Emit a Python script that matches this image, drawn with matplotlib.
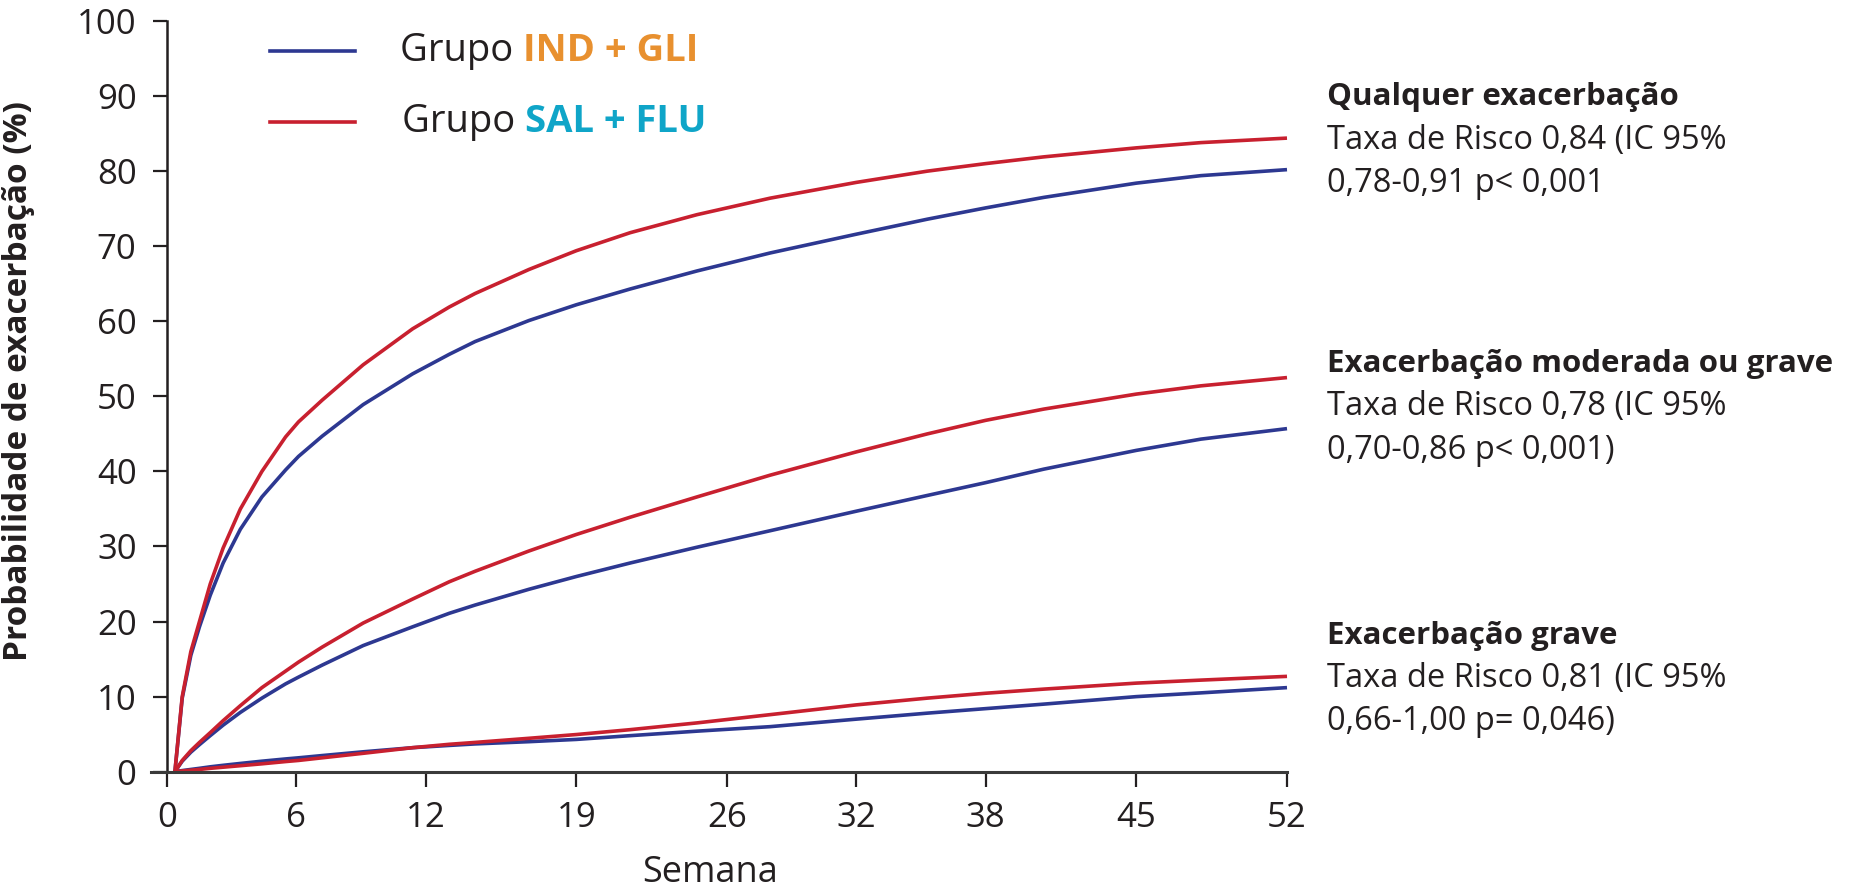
import matplotlib
matplotlib.use("Agg")
import matplotlib.pyplot as plt
from matplotlib.lines import Line2D

plt.rcParams["font.family"] = ["Open Sans", "DejaVu Sans"]

# cumulative probability of exacerbation (%) by study week
weeks = [0.36, 0.7, 1.1, 1.5, 2.0, 2.6, 3.4, 4.4, 5.5, 6.1, 7.2, 9.1, 11.4, 13.1,
         14.3, 16.8, 19, 21.5, 24.6, 28, 32, 35.3, 38, 40.7, 45, 48, 52]

any_sal_flu = [0, 10.0, 16.0, 20.0, 25.0, 29.8, 35.0, 40.0, 44.6, 46.6, 49.5, 54.2,
               59.0, 61.9, 63.7, 66.9, 69.4, 71.8, 74.2, 76.4, 78.5, 80.0, 81.0,
               81.9, 83.1, 83.8, 84.4]
any_ind_gli = [0, 9.8, 15.5, 19.3, 23.5, 27.8, 32.3, 36.6, 40.2, 42.0, 44.7, 48.9,
               53.0, 55.6, 57.3, 60.1, 62.2, 64.3, 66.7, 69.1, 71.6, 73.6, 75.1,
               76.5, 78.4, 79.4, 80.2]
mod_sal_flu = [0, 1.5, 2.8, 3.9, 5.2, 6.8, 8.8, 11.2, 13.4, 14.6, 16.6, 19.8, 23.0,
               25.3, 26.7, 29.4, 31.6, 33.9, 36.6, 39.5, 42.6, 45.0, 46.8, 48.3,
               50.3, 51.4, 52.5]
mod_ind_gli = [0, 1.4, 2.6, 3.6, 4.8, 6.2, 7.9, 9.8, 11.7, 12.6, 14.2, 16.8, 19.3,
               21.1, 22.2, 24.3, 26.0, 27.8, 29.9, 32.1, 34.7, 36.8, 38.5, 40.3,
               42.8, 44.3, 45.7]
sev_sal_flu = [0, 0.1, 0.2, 0.3, 0.45, 0.6, 0.8, 1.05, 1.35, 1.5, 1.85, 2.45, 3.2,
               3.65, 3.9, 4.45, 4.95, 5.6, 6.5, 7.6, 8.9, 9.8, 10.45, 11.0, 11.8,
               12.2, 12.7]
sev_ind_gli = [0, 0.15, 0.3, 0.45, 0.65, 0.85, 1.1, 1.4, 1.7, 1.85, 2.15, 2.65,
               3.2, 3.5, 3.7, 4.0, 4.3, 4.8, 5.4, 6.0, 7.0, 7.8, 8.4, 9.0, 10.0,
               10.5, 11.2]

x_ticks = [0, 6, 12, 19, 26, 32, 38, 45, 52]
y_ticks = list(range(0, 101, 10))

groups = [
    ("Qualquer exacerbação",
     ["Taxa de Risco 0,84 (IC 95%", "0,78-0,91 p< 0,001"]),
    ("Exacerbação moderada ou grave",
     ["Taxa de Risco 0,78 (IC 95%", "0,70-0,86 p< 0,001)"]),
    ("Exacerbação grave",
     ["Taxa de Risco 0,81 (IC 95%", "0,66-1,00 p= 0,046)"]),
]

BLUE = "#2D3891"
RED = "#C8202F"
ORANGE = "#E8902F"
CYAN = "#0FA5C8"
INK = "#231F20"

W, H = 1855, 891
fig = plt.figure(figsize=(W / 100, H / 100), dpi=100)
ax = fig.add_axes([151 / W, 1 - 771.7 / H, (1287 - 151) / W, (771.7 - 21) / H])

lw = 2.6
for series in (any_ind_gli, mod_ind_gli, sev_ind_gli):
    ax.plot(weeks, series, color=BLUE, lw=lw, solid_joinstyle="round",
            solid_capstyle="butt", clip_on=False)
for series in (any_sal_flu, mod_sal_flu, sev_sal_flu):
    ax.plot(weeks, series, color=RED, lw=lw, solid_joinstyle="round",
            solid_capstyle="butt", clip_on=False)

ax.set_xlim(-0.75, 52)
ax.set_ylim(0, 100)
ax.spines["top"].set_visible(False)
ax.spines["right"].set_visible(False)
ax.spines["left"].set_position(("data", 0))
ax.spines["left"].set_color(INK)
ax.spines["bottom"].set_color("#3A3A3A")
ax.spines["left"].set_linewidth(1.8)
ax.spines["bottom"].set_linewidth(2.2)

ax.set_xticks(x_ticks)
ax.set_yticks(y_ticks)
ax.tick_params(axis="y", direction="out", length=10, width=1.6, color=INK,
               labelsize=25, labelcolor=INK, pad=12)
ax.tick_params(axis="x", direction="out", length=11, width=1.6, color=INK,
               labelsize=25, labelcolor=INK, pad=10)

ax.set_ylabel("Probabilidade de exacerbação (%)", fontsize=24, fontweight="bold",
              color=INK)
ax.yaxis.set_label_coords(-0.102, 0.52)
ax.set_xlabel("Semana", fontsize=26, color=INK, va="center")
ax.xaxis.set_label_coords(0.492, -0.135)

# legend: line swatch plus two-tone label
renderer = fig.canvas.get_renderer()
legend_rows = [(BLUE, "IND + GLI", ORANGE, 51, 400), (RED, "SAL + FLU", CYAN, 122, 402)]
for line_color, name, name_color, y_px, x_px in legend_rows:
    fy = 1 - y_px / H
    fig.add_artist(Line2D([270 / W, 355 / W], [fy, fy], color=line_color, lw=2.6))
    t = fig.text(x_px / W, fy, "Grupo ", fontsize=27.5, color=INK, va="center")
    bb = t.get_window_extent(renderer=renderer)
    fig.text(bb.x1 / W, fy, name, fontsize=27.5, color=name_color,
             fontweight="bold", va="center")

# hazard ratio annotations to the right of the curves
block_tops = [97, 364, 636]
for (title, lines), y0 in zip(groups, block_tops):
    fig.text(1327 / W, 1 - y0 / H, title, fontsize=22.5, fontweight="bold",
             color=INK, va="center")
    for k, line in enumerate(lines):
        fig.text(1327 / W, 1 - (y0 + 43 * (k + 1)) / H, line, fontsize=23.5,
                 color=INK, va="center")

fig.savefig("out.png", dpi=100)
